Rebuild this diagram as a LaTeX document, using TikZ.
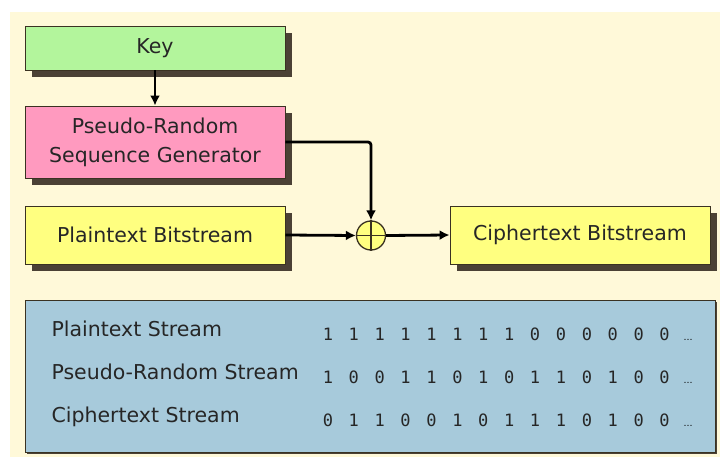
\documentclass[tikz,border=0pt]{standalone}
\usepackage{fontspec}
\setmainfont{DejaVu Sans}
\newfontfamily\digitfont{DejaVu Sans Mono}
\usetikzlibrary{shadows,arrows.meta}

\definecolor{cream}{HTML}{FFF9D9}
\definecolor{keygreen}{HTML}{B3F59C}
\definecolor{genpink}{HTML}{FF9ABF}
\definecolor{bityellow}{HTML}{FFFF80}
\definecolor{tableblue}{HTML}{A7CADB}
\definecolor{shade}{HTML}{4B4135}
\definecolor{edge}{HTML}{3A3222}

\begin{document}
\begin{tikzpicture}[x=1pt,y=-1pt,
    blockbox/.style={draw=edge,line width=0.9pt,minimum width=260pt,
      align=center,font=\fontsize{20.5}{29}\selectfont,text=black!85,
      drop shadow={shadow xshift=7pt,shadow yshift=-7pt,opacity=1,fill=shade}},
    flow/.style={line width=2.8pt,-{Latex[length=10pt,width=10pt]}},
    rowlabel/.style={anchor=base west,font=\fontsize{20.5}{24}\selectfont,text=black!85},
    bit/.style={anchor=base,font=\digitfont\fontsize{17}{20}\selectfont,text=black!85}]
    \useasboundingbox (0,0) rectangle (720,457);
    \fill[cream] (10,12) rectangle (720,457);

    \node[blockbox,fill=keygreen,minimum height=44pt] (key) at (155,48) {Key};
    \node[blockbox,fill=genpink,minimum height=72pt] (prng) at (155,142)
      {Pseudo-Random\\Sequence Generator};
    \node[blockbox,fill=bityellow,minimum height=58pt] (plain) at (155,235) {Plaintext Bitstream};
    \node[blockbox,fill=bityellow,minimum height=58pt] (cipher) at (580,235) {Ciphertext Bitstream};
    \node[circle,draw=edge,line width=1.3pt,fill=bityellow,minimum size=29pt,inner sep=0pt]
      (xor) at (371,235.5) {};
    \draw[edge,line width=1.1pt] (xor.north)--(xor.south) (xor.west)--(xor.east);

    \draw[flow] (key)--(prng);
    \draw[flow,rounded corners=3pt] (prng.east)-|(xor.north);
    \draw[flow] (plain.east)--(xor.west);
    \draw[flow] (xor.east)--(cipher.west);

    % streams
    \node[draw=edge,line width=0.9pt,fill=tableblue,minimum width=690pt,minimum height=152pt,
      drop shadow={shadow xshift=2pt,shadow yshift=-2pt,opacity=1,fill=shade}]
      (table) at (370,376) {};
    \node[rowlabel] (plainlbl) at (48,336) {Plaintext Stream};
    \node[rowlabel] (prnglbl) at (48,379) {Pseudo-Random Stream};
    \node[rowlabel] (cipherlbl) at (48,422) {Ciphertext Stream};
    \foreach \d [count=\i] in {1,1,1,1,1,1,1,1,0,0,0,0,0,0}
      \node[bit] (p\i) at (302+25.9*\i,340) {\d};
    \foreach \d [count=\i] in {1,0,0,1,1,0,1,0,1,1,0,1,0,0}
      \node[bit] (r\i) at (302+25.9*\i,383) {\d};
    \foreach \d [count=\i] in {0,1,1,0,0,1,0,1,1,1,0,1,0,0}
      \node[bit] (c\i) at (302+25.9*\i,426) {\d};
    \node[anchor=base,font=\fontsize{9}{10}\selectfont] (pdots) at (688,340) {\dots};
    \node[anchor=base,font=\fontsize{9}{10}\selectfont] (rdots) at (688,383) {\dots};
    \node[anchor=base,font=\fontsize{9}{10}\selectfont] (cdots) at (688,426) {\dots};

  \end{tikzpicture}
\end{document}
